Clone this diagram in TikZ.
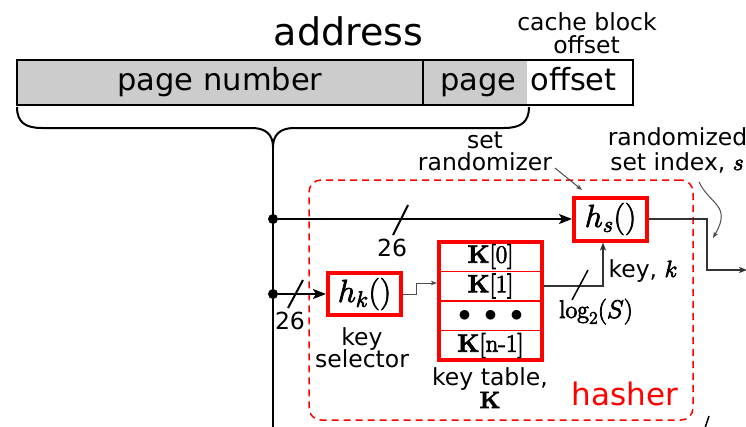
\RequirePackage{fix-cm}
\documentclass[tikz,border=0pt]{standalone}
\usepackage[no-math]{fontspec}
\setmainfont{DejaVu Sans}
\usetikzlibrary{arrows.meta}
\newcommand\fsaddr{\fontsize{38}{44}\selectfont}
\newcommand\fsbox{\fontsize{30.5}{36}\selectfont}
\newcommand\fslab{\fontsize{23.5}{28}\selectfont}
\newcommand\fsmath{\fontsize{32}{36}\selectfont}
\newcommand\fskey{\fontsize{25}{30}\selectfont}
\newcommand\fshash{\fontsize{31}{36}\selectfont}
\newcommand\fslog{\fontsize{25.5}{28}\selectfont}
\newcommand\heavy[1]{\special{pdf:literal direct 2 Tr 0.7 w}#1\special{pdf:literal direct 0 Tr}}
\begin{document}
\begin{tikzpicture}[x=1pt,y=-1pt,
  txt/.style={inner sep=0pt,anchor=base},
  lab/.style={txt,font=\fslab},
  rbox/.style={draw=red,line width=4pt,inner sep=0pt,font=\fsmath},
  dotnode/.style={circle,fill=black,inner sep=0pt,minimum size=10pt},
  mainline/.style={line width=2pt},
  bigarr/.style={line width=2pt,-{Stealth[length=13pt,width=10pt,inset=3pt]}},
  midarr/.style={line width=1.5pt,draw=black!80,-{Stealth[length=8pt,width=6pt,inset=2pt]}},
  thinarr/.style={line width=1pt,draw=black!70,-{Stealth[length=6pt,width=4.5pt,inset=1.5pt]}},
  slash/.style={line width=2pt},
  hashbox/.style={draw=red,line width=1.5pt,dash pattern=on 7pt off 5pt,rounded corners=12pt,inner sep=0pt}
]
\useasboundingbox (0,0) rectangle (746,426);
\fill[white] (0,0) rectangle (746,426);

% address field
\node[txt,font=\fsaddr] (addr) at (348.5,45) {address};
\node[lab] (cbo1) at (587,30) {cache block};
\node[lab] (cbo2) at (586.5,53) {offset};
\fill[gray!40] (17,60) rectangle (527,105);
\node[draw,line width=2pt,minimum width=616pt,minimum height=45pt,inner sep=0pt] (abox) at (325,82.5) {};
\draw[line width=2pt] (423,60) -- (423,105);
\node[txt,font=\fsbox] (pn) at (220,90) {page number};
\node[txt,font=\fsbox] (pg) at (478.5,90) {page};
\node[txt,font=\fsbox] (po) at (573.5,90) {offset};

% brace
\coordinate (tip) at (273,147);
\coordinate (bot) at (273,430);
\draw[line width=2pt] (17,107) .. controls (17,122) and (25,128) .. (42,128) -- (252,128)
  .. controls (266,128) and (273,135) .. (tip)
  .. controls (273,135) and (280,128) .. (294,128) -- (504,128)
  .. controls (521,128) and (529,122) .. (529,107);
\draw[mainline] (tip) -- (bot);

% hasher box
\node[hashbox,minimum width=384pt,minimum height=240pt] (hbox) at (501,300) {};
\node[txt,font=\fshash,text=red] (hasher) at (625,405) {hasher};

% dots
\node[dotnode] (d1) at (273,219) {};
\node[dotnode] (d2) at (273,294) {};

% h_s and h_k
\node[rbox,minimum width=73pt,minimum height=43pt] (hs) at (610.5,219) {\heavy{$h_s()$}};
\node[rbox,minimum width=73pt,minimum height=42pt] (hk) at (364.5,294) {\heavy{$h_k()$}};

% key table
\node[draw=red,line width=4pt,minimum width=103pt,minimum height=118pt,inner sep=0pt] (kt) at (490.5,301) {};
\draw[red,line width=1.5pt] (439,271.5) -- (542,271.5);
\draw[red,line width=1.5pt] (439,301) -- (542,301);
\draw[red,line width=1.5pt] (439,330.5) -- (542,330.5);
\node[inner sep=0pt,font=\fskey] (k0) at (490.5,256.5) {\heavy{$\mathbf{K}[0]$}};
\node[inner sep=0pt,font=\fskey] (k1) at (490.5,286) {\heavy{$\mathbf{K}[1]$}};
\node[inner sep=0pt,font=\fskey] (k2) at (490.5,316) {$\bullet\ \bullet\ \bullet$};
\node[inner sep=0pt,font=\fskey] (k3) at (490.5,345.5) {\heavy{$\mathbf{K}[\mathrm{n}\mathchar"002D 1]$}};

% connectors
\draw[bigarr] (d1) -- (hs.west);
\draw[bigarr] (d2) -- (hk.west);
\draw[slash] (408,205) -- (393,235);
\node[lab] (n26a) at (392,256) {26};
\draw[slash] (303,280) -- (288,308);
\node[lab] (n26b) at (290,329) {26};

\coordinate (ktin) at (437,283);
\draw[thinarr] (hk.east) -- (416,294) -- (416,283) -- (ktin);

\draw[midarr] ([yshift=15pt]kt.east) -| ([xshift=-7.5pt]hs.south);
\draw[line width=1.5pt] (588,270) -- (572,300);
\node[txt,font=\fslog] (logs) at (596,318) {\heavy{$\log_2(S)$}};
\node[lab] (keyk) at (643,277) {key, \heavy{$k$}};

\coordinate (oc) at (707,270);
\coordinate (oend) at (747,270);
\draw[midarr] (hs.east) -| (oc) -- (oend);

% labels
\node[lab] (kl1) at (362,345) {key};
\node[lab] (kl2) at (362,367) {selector};
\node[lab] (tl1) at (490,385) {key table,};
\node[txt,font=\fslab] (tl2) at (490,408) {\heavy{$\mathbf{K}$}};
\node[lab] (sr1) at (485,148) {set};
\node[lab] (sr2) at (485,170) {randomizer};
\node[lab] (rs1) at (677.5,145) {randomized};
\node[lab] (rs2) at (677,170) {set index, \heavy{$s$}};

\coordinate (sra) at (555,168);
\coordinate (srb) at (582,190);
\draw[thinarr] (sra) -- (srb);
\coordinate (rca) at (699,182);
\coordinate (rcb) at (713,238);
\draw[thinarr] (rca) .. controls (710,205) and (732,205) .. (rcb);

\coordinate (tka) at (705,428);
\coordinate (tkb) at (709,416);
\draw[line width=1.5pt] (tka) -- (tkb);
\end{tikzpicture}
\end{document}
